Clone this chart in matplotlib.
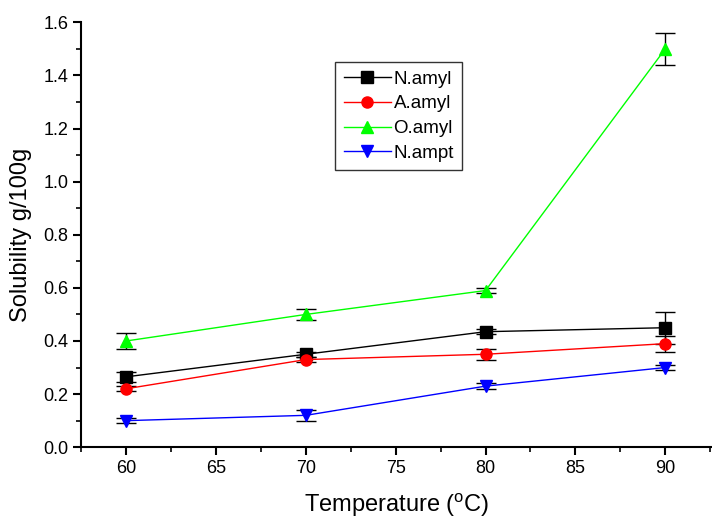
import matplotlib
matplotlib.use('Agg')
from matplotlib import pyplot as plt
from matplotlib.ticker import MultipleLocator

plt.rcParams['font.family'] = ['Liberation Sans', 'DejaVu Sans']

temps = [60, 70, 80, 90]
n_amyl = [0.265, 0.35, 0.435, 0.45]
n_amyl_err = [0.02, 0.01, 0.01, 0.06]
a_amyl = [0.22, 0.33, 0.35, 0.39]
a_amyl_err = [0.01, 0.01, 0.02, 0.03]
o_amyl = [0.40, 0.50, 0.59, 1.50]
o_amyl_err = [0.03, 0.02, 0.01, 0.06]
n_ampt = [0.10, 0.12, 0.23, 0.30]
n_ampt_err = [0.01, 0.02, 0.01, 0.01]

fig = plt.figure(figsize=(7.12, 5.2), dpi=100)
ax = fig.add_axes([0.114, 0.140, 0.886, 0.817])

series = [
    ('N.amyl', n_amyl, n_amyl_err, 'black', 's', 8),
    ('A.amyl', a_amyl, a_amyl_err, 'red', 'o', 8),
    ('O.amyl', o_amyl, o_amyl_err, '#00ff00', '^', 9),
    ('N.ampt', n_ampt, n_ampt_err, 'blue', 'v', 9),
]
for name, vals, errs, col, mk, ms in series:
    ax.errorbar(temps, vals, yerr=errs, fmt='none', ecolor='black',
                elinewidth=1, capsize=7, capthick=1, zorder=2)
    ax.plot(temps, vals, color=col, marker=mk, markersize=ms, lw=1,
            label=name, zorder=3)

ax.set_xlim(57.5, 92.6)
ax.set_ylim(0, 1.6)
ax.xaxis.set_major_locator(MultipleLocator(5))
ax.xaxis.set_minor_locator(MultipleLocator(2.5))
ax.yaxis.set_major_locator(MultipleLocator(0.2))
ax.yaxis.set_minor_locator(MultipleLocator(0.1))
ax.yaxis.set_major_formatter(plt.FuncFormatter(lambda v, p: '%.1f' % v))
ax.spines['top'].set_visible(False)
ax.spines['right'].set_visible(False)
ax.spines['left'].set_linewidth(1.5)
ax.spines['bottom'].set_linewidth(1.5)
ax.tick_params(which='major', direction='out', length=6, width=1.5,
               labelsize=13, pad=3)
ax.tick_params(which='minor', direction='out', length=3.5, width=1.2)

ax.set_xlabel('Temperature ($\\mathregular{^o}$C)', fontsize=17, labelpad=11)
ax.set_ylabel('Solubility g/100g', fontsize=17, labelpad=8)

leg = ax.legend(loc='upper left', bbox_to_anchor=(0.403, 0.906), fontsize=13.5,
                frameon=True, fancybox=False, edgecolor='black',
                handlelength=2.5, handletextpad=0.15, labelspacing=0.4,
                borderpad=0.45, borderaxespad=0)
leg.get_frame().set_linewidth(1)

fig.savefig('out.png', dpi=100)
